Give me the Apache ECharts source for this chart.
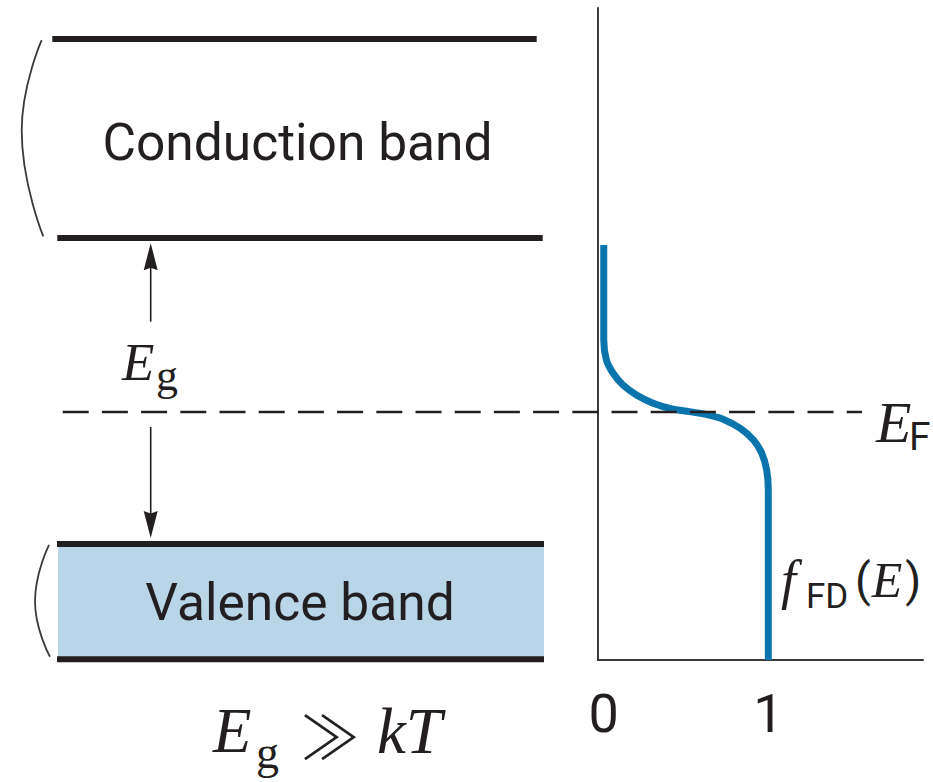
<!DOCTYPE html>
<html>
<head>
<meta charset="utf-8">
<script src="https://cdn.jsdelivr.net/npm/echarts@6/dist/echarts.min.js"></script>
<style>html,body{margin:0;padding:0;background:#fff}#c{width:933px;height:782px}</style>
</head>
<body>
<div id="c"></div>
<script>
// ---------------- data (energy in arbitrary units, E_F = 0) ----------------
const occupancy = [0, 0, 0.016, 0.057, 0.117, 0.199, 0.30, 0.42, 0.52, 0.62, 0.725, 0.83, 0.91, 0.96, 0.99, 1, 1];
const energy    = [4.175, 1.8, 1.3, 0.97, 0.675, 0.425, 0.22, 0.07, 0.01, -0.06, -0.18, -0.41, -0.70, -1.03, -1.45, -1.95, -6.2];
const xTickValues = [0, 1];
const xTickLabels = ['0', '1'];
const bandNames  = ['Conduction band', 'Valence band'];
const bandUpper  = [9.325, -3.3];   // upper edge of each band
const bandLower  = [4.35, -6.18];   // lower edge of each band
const fermiLevel = 0;
const energyMin = -6.2, energyMax = 10.1;

// ---------------- layout / styles ----------------
const INK = '#231f20';
const BLUE = '#0b74ad';
const FILL = '#b9d5e8';
const gridTop = 8, gridH = 652;
const pxPerE = gridH / (energyMax - energyMin);

// schematic horizontal extents (grid 0 uses a pixel-like schematic x scale 0..933)
const bandLineExt = [[[52.3, 536.7], [57.3, 542.7]], [[57, 544], [57, 544]]];
const fillExt = [58, 544];
const bracketX = [[41.7, 21.7, 43.3], [49, 35, 50]];
const arrowX = 150.7;
const fermiExt = [62.7, 862];

const series = [];
// band edge lines
bandNames.forEach((n, i) => {
  [bandUpper[i], bandLower[i]].forEach((e, j) => {
    const ext = bandLineExt[i][j];
    series.push({
      type: 'line', xAxisIndex: 0, yAxisIndex: 0, symbol: 'none', silent: true, clip: false, z: 5,
      data: [[ext[0], e], [ext[1], e]],
      lineStyle: { color: INK, width: 6, cap: 'butt' }
    });
  });
});
// valence band fill
series.push({
  type: 'line', xAxisIndex: 0, yAxisIndex: 0, symbol: 'none', silent: true, data: [], z: 1,
  markArea: { silent: true, itemStyle: { color: FILL },
    data: [[{ coord: [fillExt[0], bandUpper[1]] }, { coord: [fillExt[1], bandLower[1]] }]] }
});
// brackets
bandNames.forEach((n, i) => {
  const off = i === 0 ? 0.03 : 0.02;
  series.push({
    type: 'line', xAxisIndex: 0, yAxisIndex: 0, symbol: 'none', silent: true, smooth: true, clip: false,
    data: [[bracketX[i][0], bandUpper[i] - off], [bracketX[i][1], (bandUpper[i] + bandLower[i]) / 2 + (i === 0 ? 0.2 : 0)], [bracketX[i][2], bandLower[i] + off + (i===0?0.01:0.04)]],
    lineStyle: { color: '#3a3a3a', width: 1.8 }
  });
});
// E_g arrows
const headW = 14, headH = 27;
const headPath = 'path://M7 0 L14 27 L7 24.5 L0 27 Z';
const upTip = bandLower[0] - 0.13, downTip = bandUpper[1] + 0.15;
series.push({
  type: 'line', xAxisIndex: 0, yAxisIndex: 0, silent: true, clip: false, z: 4,
  lineStyle: { color: INK, width: 1.6 },
  itemStyle: { color: INK },
  data: [
    { value: [arrowX, 2.2575], symbol: 'none' },
    { value: [arrowX, upTip - headH / 2 / pxPerE], symbol: headPath, symbolSize: [headW, headH] }
  ]
});
series.push({
  type: 'line', xAxisIndex: 0, yAxisIndex: 0, silent: true, clip: false, z: 4,
  lineStyle: { color: INK, width: 1.6 },
  itemStyle: { color: INK },
  data: [
    { value: [arrowX, -0.375], symbol: 'none' },
    { value: [arrowX, downTip + headH / 2 / pxPerE], symbol: headPath, symbolSize: [headW, headH], symbolRotate: 180 }
  ]
});
// Fermi-Dirac occupancy curve
series.push({
  type: 'line', xAxisIndex: 1, yAxisIndex: 1, symbol: 'none', silent: true, clip: false, z: 3,
  smooth: 0.3,
  data: occupancy.map((f, k) => [f, energy[k]]),
  lineStyle: { color: BLUE, width: 7, cap: 'butt', join: 'round' }
});
// Fermi level dashed line
series.push({
  type: 'line', xAxisIndex: 0, yAxisIndex: 0, symbol: 'none', silent: true, clip: false, z: 8,
  data: [[fermiExt[0], fermiLevel], [fermiExt[1], fermiLevel]],
  lineStyle: { color: INK, width: 2.6, type: [26, 13.2] }
});

// ---------------- texts ----------------
const SERIF = '"Liberation Serif", "Times New Roman", serif';
const SANS = 'Roboto, "Liberation Sans", sans-serif';
function txt(s, x, y, size, family, opts) {
  opts = opts || {};
  const st = { text: s, fill: INK, fontSize: size, fontFamily: family,
      fontStyle: opts.italic ? 'italic' : 'normal', fontWeight: opts.weight || 'normal',
      align: opts.align || 'left', verticalAlign: 'middle' };
  if (opts.rich) st.rich = opts.rich;
  return { type: 'text', x: x, y: y, silent: true, z: 20, style: st };
}
const graphics = [
  txt(bandNames[0], 297.5, 142, 51.5, SANS, { align: 'center' }),
  txt(bandNames[1], 300, 602, 51.5, SANS, { align: 'center' }),
  // E_g (left)
  txt('E', 122, 362, 53, SERIF, { italic: true }),
  txt('g', 156, 375, 44, SERIF),
  // E_F
  txt('E', 876, 422, 58, SERIF, { italic: true }),
  txt('F', 909, 437, 39, SANS),
  // f_FD(E)
  txt('f', 781, 580, 54, SERIF, { italic: true }),
  txt('FD', 806, 596, 35, SANS),
  txt('{p|(}{e|E}{p|)}', 855, 580, 46, SANS, { rich: {
    p: { fontFamily: SANS, fontSize: 46, fill: INK, padding: [0, 1, 0, 0] },
    e: { fontFamily: SERIF, fontStyle: 'italic', fontSize: 50, fill: INK, padding: [0, 3, 0, 0] } } }),
  // E_g >> kT
  txt('E', 213, 731, 63, SERIF, { italic: true }),
  txt('g', 256, 752, 46, SERIF),
  txt('\u226B', 300, 733, 60, '"Noto Sans CJK JP", "DejaVu Serif", serif', { weight: 300 }),
  txt('kT', 377, 731, 65, SERIF, { italic: true })
];

const chart = echarts.init(document.getElementById('c'), null, { renderer: 'svg' });
chart.setOption({
  animation: false,
  backgroundColor: '#fff',
  grid: [
    { left: 0, top: gridTop, width: 933, height: gridH },
    { left: 598, top: gridTop, width: 325, height: gridH }
  ],
  xAxis: [
    { gridIndex: 0, type: 'value', min: 0, max: 933, show: false },
    { gridIndex: 1, type: 'value', min: -0.035, max: 1.94,
      axisLine: { show: true, onZero: false, lineStyle: { color: '#3a3a3a', width: 2 } },
      axisTick: { show: false }, splitLine: { show: false },
      axisLabel: { customValues: xTickValues, formatter: v => xTickLabels[xTickValues.indexOf(v)] || '',
        fontSize: 54, fontFamily: SANS, color: INK, margin: 26 } }
  ],
  yAxis: [
    { gridIndex: 0, type: 'value', min: energyMin, max: energyMax, show: false },
    { gridIndex: 1, type: 'value', min: energyMin, max: energyMax,
      axisLine: { show: true, onZero: false, lineStyle: { color: '#3a3a3a', width: 2 } },
      axisTick: { show: false }, axisLabel: { show: false }, splitLine: { show: false } }
  ],
  series: series,
  graphic: graphics
});
</script>
</body>
</html>
